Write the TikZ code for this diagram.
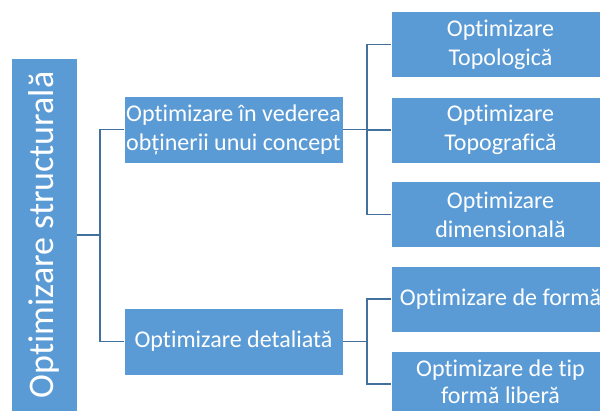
\documentclass[tikz,border=0pt]{standalone}
\usepackage{fontspec}
\setmainfont[Ligatures={NoCommon,NoContextual}]{Carlito}
\definecolor{boxblue}{HTML}{5B9BD5}
\definecolor{linkblue}{HTML}{41719C}
\tikzset{
  x=1pt, y=-1pt,
  box/.style={fill=boxblue, draw=white, line width=0.6pt, text=white, align=center,
    inner sep=0pt, minimum width=219pt, minimum height=66pt,
    font=\fontsize{24}{28.8}\selectfont},
  conn/.style={draw=linkblue, line width=1.6pt}
}
\begin{document}
\begin{tikzpicture}
\useasboundingbox (0,0) rectangle (600,410);
\clip (0,0) rectangle (600,410);

% root, text reading upwards
\node[box, minimum width=66pt, minimum height=354pt, font=\fontsize{36}{40}\selectfont]
  (root) at (44,235) {\rotatebox{90}{Optimizare structurală}};

% first level
\node[box, minimum height=67pt] (c1) at (233.5,129.5) {Optimizare în vederea\\obținerii unui concept};
\node[box, minimum height=67pt] (c2) at (233.5,341.5) {Optimizare detaliată};

% second level
\node[box] (g1) at (500.5,44.5) {Optimizare\\Topologică};
\node[box] (g2) at (500.5,130) {Optimizare\\Topografică};
\node[box] (g3) at (500.5,214.5) {Optimizare\\dimensională};
\node[box] (g4) at (500.5,299) {Optimizare de formă};
\node[box] (g5) at (500.5,384) {};
\node[align=center, text=white, inner sep=0pt, font=\fontsize{24}{27}\selectfont]
  (g5t) at (500.5,381.5) {Optimizare de tip\\formă liberă};

% junction columns
\coordinate (j0) at (100,0);
\coordinate (j1) at (367,0);

% connectors
\draw[conn] (root.east) -- (root.east -| j0);
\draw[conn] (c1.west) -- (c1.west -| j0) -- (c2.west -| j0) -- (c2.west);

\draw[conn] (c1.east) -- (c1.east -| j1);
\draw[conn] (g1.west) -- (g1.west -| j1) -- (g3.west -| j1) -- (g3.west);
\draw[conn] (g2.west) -- (g2.west -| j1);

\draw[conn] (c2.east) -- (c2.east -| j1);
\draw[conn] (g4.west) -- (g4.west -| j1) -- (g5.west -| j1) -- (g5.west);
\end{tikzpicture}
\end{document}
